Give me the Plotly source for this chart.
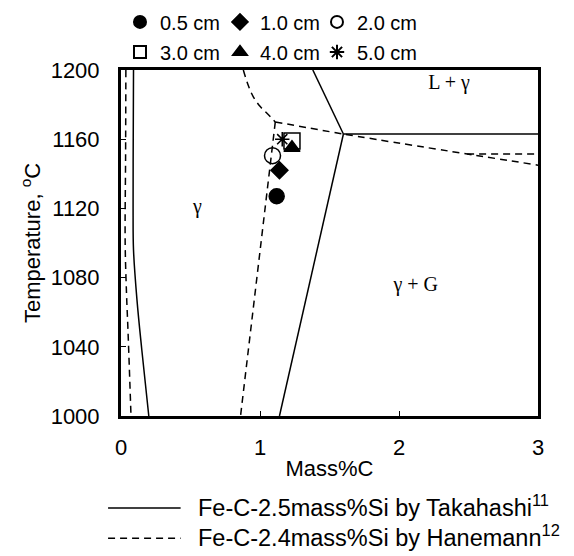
import plotly.graph_objects as go

# Fe-C-Si phase boundaries, Takahashi (Fe-C-2.5mass%Si)
tak_left_c = [0.09, 0.088, 0.087, 0.09, 0.115, 0.15, 0.2]
tak_left_t = [1200, 1160, 1120, 1096, 1067, 1038, 1000]
tak_liq_c = [1.38, 1.6]
tak_liq_t = [1200, 1163]
tak_eut_c = [1.6, 3.0]
tak_eut_t = [1163, 1163]
tak_solv_c = [1.6, 1.14]
tak_solv_t = [1163, 1000]

# Fe-C-Si phase boundaries, Hanemann (Fe-C-2.4mass%Si)
han_left_c = [0.035, 0.033, 0.03, 0.04, 0.05, 0.072]
han_left_t = [1200, 1150, 1100, 1070, 1050, 1000]
han_liq_c = [0.88, 0.916, 0.952, 1.0, 1.05, 1.11]
han_liq_t = [1200, 1191, 1184.5, 1179, 1175, 1170]
han_eut_c = [1.11, 1.6, 3.0]
han_eut_t = [1170, 1163, 1145]
han_branch_c = [2.49, 3.0]
han_branch_t = [1151.5, 1151.5]
han_solv_c = [1.11, 0.86]
han_solv_t = [1170, 1000]

# Measured points by distance
dist_labels = ["0.5 cm", "1.0 cm", "2.0 cm", "3.0 cm", "4.0 cm", "5.0 cm"]
dist_c = [1.12, 1.14, 1.09, 1.23, 1.23, 1.16]
dist_t = [1127, 1142, 1150.5, 1159, 1155, 1160]
dist_symbols = ["circle", "diamond", "circle-open", "square-open", "triangle-up", "asterisk-open"]
dist_sizes = [15, 13, 16, 16, 14, 12]

# Phase-field labels
region_text = ["L + γ", "γ", "γ + G"]
region_c = [2.36, 0.55, 2.12]
region_t = [1192, 1120, 1075]

FONT = "Liberation Sans, Arial, sans-serif"
SERIF = "Liberation Serif, Times New Roman, serif"

fig = go.Figure()

solid = dict(color="black", width=1.5)
dashed = dict(color="black", width=1.5, dash="7px,5px")

for cx, ty in [(tak_left_c, tak_left_t), (tak_liq_c, tak_liq_t),
               (tak_eut_c, tak_eut_t), (tak_solv_c, tak_solv_t)]:
    fig.add_trace(go.Scatter(x=cx, y=ty, mode="lines", line=solid,
                             line_shape="spline", showlegend=False, hoverinfo="skip"))

for cx, ty in [(han_left_c, han_left_t), (han_liq_c, han_liq_t),
               (han_eut_c, han_eut_t), (han_branch_c, han_branch_t),
               (han_solv_c, han_solv_t)]:
    fig.add_trace(go.Scatter(x=cx, y=ty, mode="lines", line=dashed,
                             line_shape="spline", showlegend=False, hoverinfo="skip"))

# Legend grid: 3 columns x 2 rows above the plot, one legend box per entry
legend_cols = [-0.0024, 0.2374, 0.470]
legend_rows = [1.139, 1.052]
legend_common = dict(orientation="h", xanchor="left", yanchor="middle",
                     font=dict(family=FONT, size=20, color="black"),
                     bgcolor="rgba(0,0,0,0)", itemsizing="constant")
legend_layout = {}

for i, lab in enumerate(dist_labels):
    key = "legend" if i == 0 else f"legend{i + 1}"
    legend_layout[key] = dict(x=legend_cols[i % 3], y=legend_rows[i // 3], **legend_common)
    fig.add_trace(go.Scatter(
        x=[dist_c[i]], y=[dist_t[i]], mode="markers", name=lab,
        marker=dict(symbol=dist_symbols[i], size=dist_sizes[i], color="black",
                    line=dict(color="black", width=1.5)),
        legend=key,
    ))
fig.update_layout(**legend_layout)

fig.add_trace(go.Scatter(x=region_c, y=region_t, mode="text", text=region_text,
                         textfont=dict(family=SERIF, size=20, color="black"),
                         showlegend=False, hoverinfo="skip"))

# Key for the two phase-diagram sources
key_rows = [(-0.266, "solid", "Fe-C-2.5mass%Si by Takahashi<sup>11</sup>"),
            (-0.353, "7px,5px", "Fe-C-2.4mass%Si by Hanemann<sup>12</sup>")]
for yk, dsh, txt in key_rows:
    fig.add_shape(type="line", xref="paper", yref="paper", x0=-0.031, x1=0.143,
                  y0=yk, y1=yk, line=dict(color="black", width=1.5, dash=dsh))
    fig.add_annotation(xref="paper", yref="paper", x=0.18, y=yk + 0.006, text=txt,
                       showarrow=False, xanchor="left", yanchor="middle",
                       font=dict(family=FONT, size=23.5, color="black"))

axis_common = dict(showline=True, linewidth=3, linecolor="black", mirror=True,
                   ticks="inside", ticklen=5, tickwidth=1, tickcolor="black",
                   showgrid=False, zeroline=False,
                   tickfont=dict(family=FONT, size=22, color="black"))

fig.update_xaxes(range=[0, 3], tickvals=[0, 1, 2, 3], ticktext=["0", "1", "2", "3"],
                 ticklabelstandoff=10,
                 title=dict(text="Mass%C", font=dict(family=FONT, size=22, color="black"),
                            standoff=2),
                 **axis_common)
fig.update_yaxes(range=[1000, 1200], tickvals=[1000, 1040, 1080, 1120, 1160, 1200],
                 ticklabelstandoff=14,
                 title=dict(text="Temperature, <sup>o</sup>C",
                            font=dict(family=FONT, size=22, color="black"), standoff=4),
                 **axis_common)

fig.update_layout(
    width=574, height=556,
    margin=dict(l=121, r=36, t=70, b=140, autoexpand=False),
    paper_bgcolor="white", plot_bgcolor="white",
)

fig.write_html("out.html")
